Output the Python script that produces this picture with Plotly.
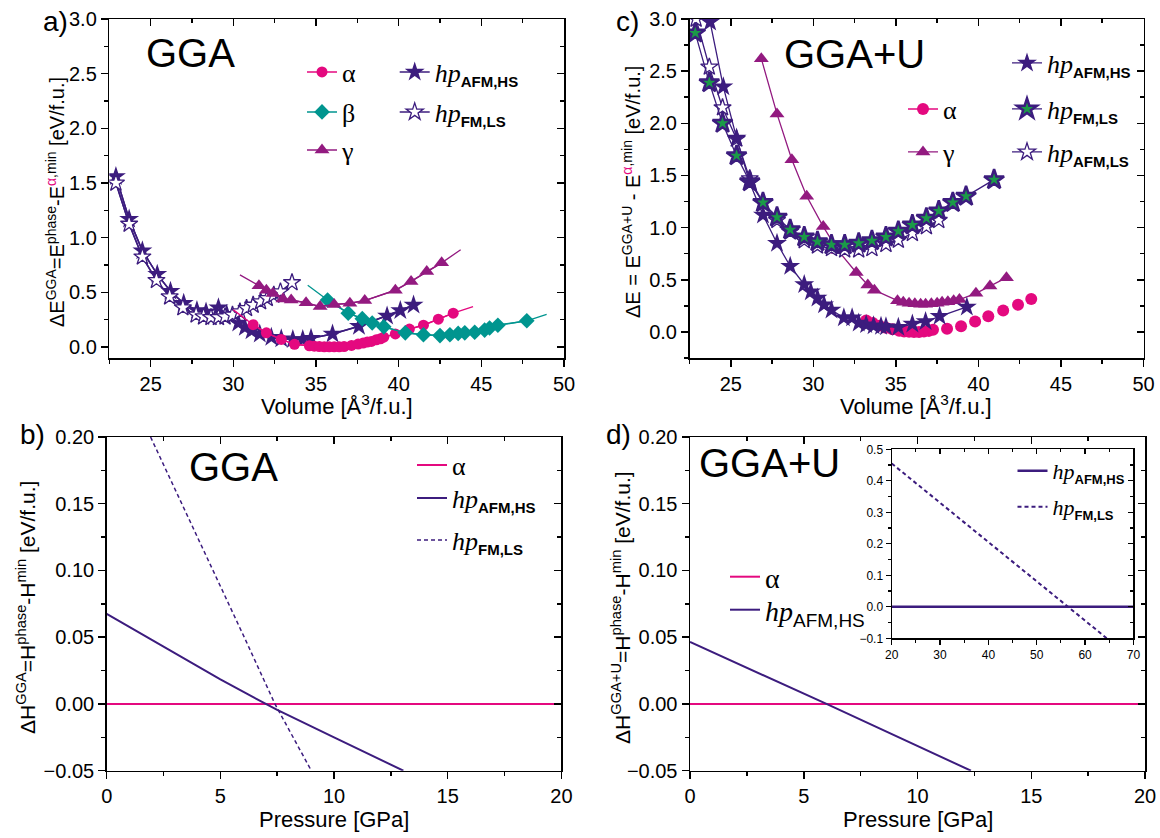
import plotly.graph_objects as go

# ---------------- data ----------------
# Panel a (GGA): energy vs volume
A_ALPHA_V = [31.2, 32.0, 32.9, 33.7, 34.6, 34.9, 35.2, 35.5, 35.8, 36.1, 36.4, 36.7, 37.15, 37.55,
             37.85, 38.1, 38.35, 38.65, 38.9, 39.1, 39.8, 40.65, 41.5, 42.4, 43.3]
A_ALPHA_E = [0.205, 0.13, 0.07, 0.025, 0.012, 0.008, 0.005, 0.003, 0.002, 0.002, 0.003, 0.005, 0.015,
             0.027, 0.037, 0.046, 0.052, 0.067, 0.076, 0.09, 0.12, 0.165, 0.2, 0.255, 0.31]
A_ALPHA_FIT_V = [30.0, 44.5]
A_ALPHA_FIT_E = [0.34, 0.37]

A_BETA_V = [35.7, 36.95, 37.8, 38.4, 39.1, 40.4, 41.5, 42.5, 43.1, 43.6, 44.0, 44.6, 45.2, 45.5, 46.0, 47.75]
A_BETA_E = [0.43, 0.31, 0.26, 0.22, 0.185, 0.13, 0.113, 0.105, 0.113, 0.125, 0.13, 0.135, 0.155, 0.175, 0.2, 0.24]
A_BETA_FIT_V = [34.5, 48.95]
A_BETA_FIT_E = [0.565, 0.30]

A_GAMMA_V = [31.55, 32.0, 32.4, 33.0, 33.5, 34.4, 35.25, 36.1, 37.05, 37.95, 39.8, 40.75, 41.7, 42.6]
A_GAMMA_E = [0.56, 0.52, 0.49, 0.44, 0.43, 0.405, 0.37, 0.39, 0.40, 0.425, 0.52, 0.60, 0.69, 0.77]
A_GAMMA_FIT_V = [30.4, 43.75]
A_GAMMA_FIT_E = [0.66, 0.89]

A_HS_V = [22.9, 23.7, 24.5, 25.4, 26.2, 27.0, 27.8, 28.35, 29.1, 29.6, 30.3, 30.7, 31.1, 31.6, 32.3,
          32.9, 33.6, 34.2, 34.7, 36.0, 37.6, 39.3, 40.1, 40.9]
A_HS_E = [1.56, 1.17, 0.88, 0.665, 0.51, 0.40, 0.335, 0.32, 0.36, 0.30, 0.22, 0.18, 0.15, 0.12, 0.09,
          0.075, 0.07, 0.07, 0.08, 0.12, 0.19, 0.285, 0.335, 0.385]

A_LS_V = [22.9, 23.7, 24.5, 25.35, 26.15, 26.95, 27.75, 28.2, 28.65, 29.1, 29.5, 29.95, 30.4, 30.8,
          31.2, 31.65, 32.05, 32.45, 32.85, 33.55]
A_LS_E = [1.50, 1.125, 0.825, 0.61, 0.46, 0.36, 0.295, 0.277, 0.271, 0.271, 0.277, 0.293, 0.323, 0.354,
          0.384, 0.415, 0.445, 0.476, 0.506, 0.59]

# Panel c (GGA+U): energy vs volume
C_ALPHA_V = [33.2, 33.6, 34.0, 34.4, 34.8, 35.2, 35.5, 35.8, 36.1, 36.4, 36.7, 37.0, 37.25, 38.1,
             38.95, 39.8, 40.6, 41.5, 42.4, 43.2]
C_ALPHA_E = [0.11, 0.085, 0.06, 0.04, 0.025, 0.012, 0.005, 0.002, 0.0, 0.0, 0.003, 0.01, 0.02, 0.03,
             0.055, 0.10, 0.15, 0.205, 0.26, 0.315]

C_GAMMA_V = [26.85, 27.8, 28.7, 29.6, 30.6, 31.5, 32.6, 33.3, 33.7, 35.1, 35.45, 35.8, 36.15, 36.5,
             36.8, 37.15, 37.5, 37.8, 38.15, 38.5, 38.85, 39.85, 40.7, 41.7]
C_GAMMA_E = [2.62, 2.09, 1.65, 1.30, 1.01, 0.78, 0.57, 0.45, 0.40, 0.30, 0.285, 0.275, 0.27, 0.265,
             0.265, 0.27, 0.275, 0.285, 0.29, 0.30, 0.31, 0.37, 0.44, 0.52]

C_HS_V = [23.75, 24.55, 25.35, 26.15, 26.95, 27.8, 28.6, 29.45, 29.85, 30.25, 30.65, 31.1, 31.85,
          32.35, 32.75, 33.2, 33.65, 34.1, 34.4, 35.15, 36.0, 36.8, 37.65, 39.3]
C_HS_E = [2.97, 2.35, 1.86, 1.43, 1.12, 0.85, 0.63, 0.455, 0.385, 0.325, 0.26, 0.21, 0.135, 0.135,
          0.085, 0.07, 0.06, 0.055, 0.05, 0.045, 0.075, 0.10, 0.15, 0.24]

C_FMLS_V = [22.85, 23.7, 24.5, 25.35, 26.15, 26.95, 27.8, 28.6, 29.45, 30.25, 31.1, 31.9, 32.75,
            33.55, 34.4, 35.15, 36.0, 36.85, 37.6, 38.45, 39.25, 40.95]
C_FMLS_E = [2.865, 2.39, 2.0, 1.69, 1.44, 1.24, 1.10, 0.98, 0.91, 0.865, 0.835, 0.835, 0.85, 0.875,
            0.91, 0.965, 1.025, 1.09, 1.16, 1.24, 1.30, 1.46]

C_AFMLS_V = [22.9, 23.7, 24.5, 25.35, 26.15, 26.95, 27.8, 28.6, 29.45, 30.25, 31.1, 31.9, 32.75,
             33.55, 34.4, 35.15, 36.0, 36.85, 37.6]
C_AFMLS_E = [3.0, 2.54, 2.15, 1.85, 1.47, 1.24, 1.07, 0.96, 0.876, 0.825, 0.80, 0.787, 0.787, 0.80,
             0.84, 0.88, 0.945, 1.01, 1.07]

# Panel b (GGA): enthalpy vs pressure
B_ALPHA_P = [0, 20]
B_ALPHA_H = [0.0, 0.0]
B_HS_P = [0, 2.5, 5, 7.0, 7.5, 10, 13.05]
B_HS_H = [0.0674, 0.043, 0.0185, 0.0, -0.0045, -0.025, -0.05]
B_LS_P = [1.93, 3.3, 4.7, 6.05, 7.4, 9.0]
B_LS_H = [0.2, 0.15, 0.10, 0.05, 0.0, -0.05]

# Panel d (GGA+U): enthalpy vs pressure (+ inset)
D_ALPHA_P = [0, 20]
D_ALPHA_H = [0.0, 0.0]
D_HS_P = [0, 6.0, 12.35]
D_HS_H = [0.0465, 0.0, -0.05]
IN_HS_P = [20, 70]
IN_HS_H = [0.0, 0.0]
IN_LS_P = [20, 56.5, 64.5]
IN_LS_H = [0.455, 0.0, -0.1]

# ---------------- style ----------------
PINK = "#E4097F"
TEAL = "#00958F"
PURPLE = "#931A80"
INDIGO = "#3C1C7E"
GREEN = "#1B9A48"
SANS = "Liberation Sans"
SERIF = "Liberation Serif"

W, H = 1160, 838


def px(xp):
    return xp / W


def py(yp):
    return 1 - yp / H


def hp(sub, subsize, bold=True):
    weight = "font-weight:bold;" if bold else ""
    return ("<i>hp</i><sub><span style='font-family:Liberation Sans;%sfont-size:%dpx'>%s</span></sub>"
            % (weight, subsize, sub))


fig = go.Figure()
legend_layout = {}
legend_count = [0]


def new_legend(text_x, row_y, size):
    legend_count[0] += 1
    lid = "legend" if legend_count[0] == 1 else "legend%d" % legend_count[0]
    legend_layout[lid] = dict(x=px(text_x - 40), y=py(row_y), xanchor="left", yanchor="middle",
                              bgcolor="rgba(0,0,0,0)", borderwidth=0,
                              font=dict(family=SERIF, size=size, color="black"))
    return lid


def add(x, y, ax, leg=None, name=None, mode="lines+markers", color="black", symbol="circle",
        msize=11, fill=None, mline=0, lw=1.5, dash="solid"):
    tr = dict(x=x, y=y, xaxis="x" + ax, yaxis="y" + ax, mode=mode, name=name or "",
              showlegend=leg is not None, hoverinfo="skip",
              line=dict(color=color, width=lw, dash=dash))
    if "markers" in mode:
        tr["marker"] = dict(symbol=symbol, size=msize, color=fill or color,
                            line=dict(color=color if mline else (fill or color), width=mline))
    if leg is not None:
        tr["legend"] = new_legend(*leg)
    fig.add_trace(go.Scatter(**tr))


# ---- Panel a ----
add(A_HS_V, A_HS_E, "", mode="lines", color=INDIGO)
add(A_LS_V, A_LS_E, "", mode="lines", color=INDIGO)
add(A_HS_V, A_HS_E, "", leg=(434.7, 72, 26), name=hp("AFM,HS", 15), color=INDIGO, symbol="star", msize=15)
add(A_LS_V, A_LS_E, "", leg=(434.7, 112, 26), name=hp("FM,LS", 15), color=INDIGO, symbol="star",
    msize=13, fill="white", mline=1.3)
add([A_GAMMA_FIT_V[0]] + A_GAMMA_V + [A_GAMMA_FIT_V[1]], [A_GAMMA_FIT_E[0]] + A_GAMMA_E + [A_GAMMA_FIT_E[1]],
    "", mode="lines", color=PURPLE, lw=1.3)
add([A_BETA_FIT_V[0]] + A_BETA_V + [A_BETA_FIT_V[1]], [A_BETA_FIT_E[0]] + A_BETA_E + [A_BETA_FIT_E[1]],
    "", mode="lines", color=TEAL, lw=1.3)
add([A_ALPHA_FIT_V[0]] + A_ALPHA_V + [A_ALPHA_FIT_V[1]], [A_ALPHA_FIT_E[0]] + A_ALPHA_E + [A_ALPHA_FIT_E[1]],
    "", mode="lines", color=PINK, lw=1.3)
add(A_ALPHA_V, A_ALPHA_E, "", leg=(342, 72, 26), name="α", color=PINK, symbol="circle", msize=11)
add(A_BETA_V, A_BETA_E, "", leg=(342, 112, 26), name="β", color=TEAL, symbol="diamond", msize=12)
add(A_GAMMA_V, A_GAMMA_E, "", leg=(342, 150, 26), name="γ", color=PURPLE, symbol="triangle-up", msize=13)

# ---- Panel c ----
add(C_ALPHA_V, C_ALPHA_E, "2", mode="markers", color=PINK, symbol="circle", msize=12)
add([None], [None], "2", leg=(943, 109, 26), name="α", color=PINK, symbol="circle", msize=12)
add(C_GAMMA_V, C_GAMMA_E, "2", leg=(943, 152, 26), name="γ", color=PURPLE, symbol="triangle-up",
    msize=13, lw=1.3)
add(C_AFMLS_V, C_AFMLS_E, "2", leg=(1047, 152, 26), name=hp("AFM,LS", 15), color=INDIGO, symbol="star",
    msize=13, fill="white", mline=1.3, lw=1.3)
add(C_FMLS_V, C_FMLS_E, "2", leg=(1047, 109, 26), name=hp("FM,LS", 15), color=INDIGO, symbol="star",
    msize=15, fill=GREEN, mline=2.5, lw=1.3)
add(C_HS_V, C_HS_E, "2", leg=(1047, 63, 26), name=hp("AFM,HS", 15), color=INDIGO, symbol="star",
    msize=15, lw=1.3)

# ---- Panel b ----
add(B_ALPHA_P, B_ALPHA_H, "3", leg=(452, 465, 26), name="α", mode="lines", color=PINK, lw=2)
add(B_HS_P, B_HS_H, "3", leg=(452, 498, 26), name=hp("AFM,HS", 15), mode="lines", color=INDIGO, lw=2)
add(B_LS_P, B_LS_H, "3", leg=(452, 540, 26), name=hp("FM,LS", 15), mode="lines", color=INDIGO, lw=1.5,
    dash="4px,3px")

# ---- Panel d ----
add(D_ALPHA_P, D_ALPHA_H, "4", leg=(765, 577, 28), name="α", mode="lines", color=PINK, lw=2)
add(D_HS_P, D_HS_H, "4", leg=(765, 610, 28), name=hp("AFM,HS", 19, bold=False), mode="lines",
    color=INDIGO, lw=2)

# ---- Inset ----
add(IN_HS_P, IN_HS_H, "5", leg=(1052.5, 471, 22), name=hp("AFM,HS", 13), mode="lines", color=INDIGO, lw=2.5)
add(IN_LS_P, IN_LS_H, "5", leg=(1052.5, 507, 22), name=hp("FM,LS", 13), mode="lines", color=INDIGO, lw=2,
    dash="4px,3px")

# dummy traces to create the mirrored (top / right) frame axes
for k in range(6, 11):
    fig.add_trace(go.Scatter(x=[], y=[], xaxis="x%d" % k, yaxis="y%d" % k, showlegend=False,
                             hoverinfo="skip"))

# ---------------- axes ----------------
panels = {
    # key: (xdomain px, ydomain px (top,bottom), xrange, yrange, xdtick, xminor, ydtick, yminor, yfmt, fontsize)
    "": ((109.3, 564.0), (19, 358), [22.5, 50], [-0.1, 3.0], 5, 2.5, 0.5, 0.25, ".1f", 20),
    "2": ((689.5, 1143.5), (19, 358), [22.5, 50], [-0.25, 3.0], 5, 2.5, 0.5, 0.25, ".1f", 20),
    "3": ((106.7, 561.4), (437, 770.7), [0, 20], [-0.05, 0.2], 5, 2.5, 0.05, 0.025, ".2f", 20),
    "4": ((690.0, 1145.0), (437, 770.7), [0, 20], [-0.05, 0.2], 5, 2.5, 0.05, 0.025, ".2f", 20),
    "5": ((891.7, 1133.4), (449.3, 638.3), [20, 70], [-0.1, 0.5], 10, 5, 0.1, 0.05, ".1f", 12),
}

layout_axes = {}
mirror_idx = {"": 6, "2": 7, "3": 8, "4": 9, "5": 10}
for key, (xd, yd, xr, yr, xdt, xmn, ydt, ymn, yfmt, fs) in panels.items():
    small = key == "5"
    lw = 1.2 if small else 1.5
    tl = 5 if small else 7
    mtl = 3 if small else 4
    common = dict(showline=True, linecolor="black", linewidth=lw, showgrid=False, zeroline=False,
                  tickcolor="black", tickwidth=lw, fixedrange=True, automargin=False,
                  tickfont=dict(family=SANS, size=fs, color="black"))
    xa = dict(common, domain=[px(xd[0]), px(xd[1])], range=xr, dtick=xdt, tick0=0, ticks="outside",
              ticklen=tl, anchor="y" + key,
              minor=dict(dtick=xmn, tick0=0, ticks="outside", ticklen=mtl, tickwidth=lw,
                         tickcolor="black", showgrid=False))
    ya = dict(common, domain=[py(yd[1]), py(yd[0])], range=yr, dtick=ydt, tick0=0, ticks="outside",
              ticklen=tl, tickformat=yfmt, anchor="x" + key,
              minor=dict(dtick=ymn, tick0=0, ticks="outside", ticklen=mtl, tickwidth=lw,
                         tickcolor="black", showgrid=False))
    layout_axes["xaxis" + key] = xa
    layout_axes["yaxis" + key] = ya
    m = mirror_idx[key]
    layout_axes["xaxis%d" % m] = dict(common, range=xr, dtick=xdt, tick0=0, ticks="inside", ticklen=tl,
                                     showticklabels=False, overlaying="x" + key, side="top",
                                     anchor="y" + key,
                                     minor=dict(dtick=xmn, tick0=0, ticks="inside", ticklen=mtl,
                                                tickwidth=lw, tickcolor="black", showgrid=False))
    layout_axes["yaxis%d" % m] = dict(common, range=yr, dtick=ydt, tick0=0, ticks="inside", ticklen=tl,
                                     showticklabels=False, overlaying="y" + key, side="right",
                                     anchor="x" + key,
                                     minor=dict(dtick=ymn, tick0=0, ticks="inside", ticklen=mtl,
                                                tickwidth=lw, tickcolor="black", showgrid=False))


# ---------------- annotations ----------------
def txt(x, y, text, size, family=SANS, angle=0):
    return dict(x=px(x), y=py(y), xref="paper", yref="paper", text=text, showarrow=False,
                xanchor="center", yanchor="middle", textangle=angle,
                font=dict(family=family, size=size, color="black"))


alpha_pink = "<span style='color:%s'>α</span>" % PINK
annotations = [
    txt(55, 21, "a)", 28), txt(627, 22, "c)", 28), txt(32, 434, "b)", 28), txt(618, 434, "d)", 28),
    txt(190, 53, "GGA", 40), txt(855, 54, "GGA+U", 40), txt(234, 467, "GGA", 40), txt(769, 463, "GGA+U", 40),
    txt(336.5, 405, "Volume [Å<sup>3</sup>/f.u.]", 22),
    txt(916, 405, "Volume [Å<sup>3</sup>/f.u.]", 22),
    txt(334, 819, "Pressure [GPa]", 22),
    txt(918, 819, "Pressure [GPa]", 22),
    txt(55, 202, "ΔE<sup>GGA</sup>=E<sup>phase</sup>-E<sup>%s,min</sup> [eV/f.u.]" % alpha_pink, 20, angle=-90),
    txt(632, 192, "ΔE = E<sup>GGA+U</sup> - E<sup>%s,min</sup> [eV/f.u.]" % alpha_pink, 20, angle=-90),
    txt(26, 608, "ΔH<sup>GGA</sup>=H<sup>phase</sup>-H<sup>min</sup> [eV/f.u.]", 21, angle=-90),
    txt(621, 608, "ΔH<sup>GGA+U</sup>=H<sup>phase</sup>-H<sup>min</sup> [eV/f.u.]", 21, angle=-90),
]

fig.update_layout(
    width=W, height=H, autosize=False,
    margin=dict(l=0, r=0, t=0, b=0, pad=0, autoexpand=False),
    paper_bgcolor="white", plot_bgcolor="white",
    font=dict(family=SANS, color="black"),
    annotations=annotations,
    **layout_axes, **legend_layout,
)

fig.write_html("out.html", include_plotlyjs=True, full_html=True,
               config={"displayModeBar": False, "staticPlot": True},
               post_script="document.body.style.margin='0';")
